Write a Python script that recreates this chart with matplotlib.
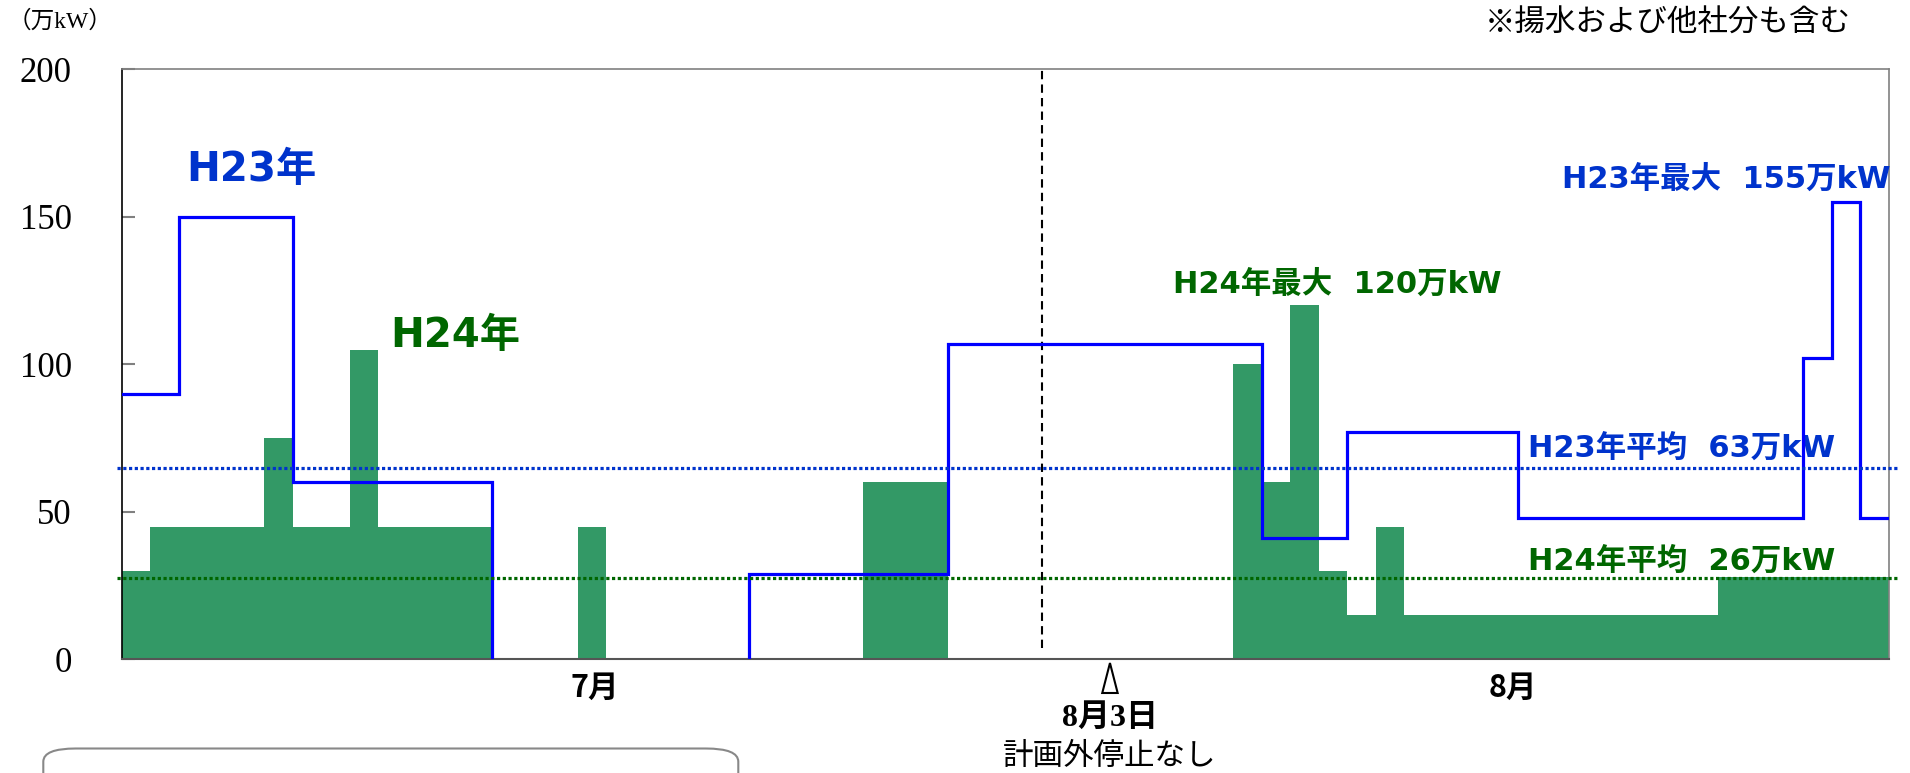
import numpy as np
import matplotlib.pyplot as plt
from matplotlib.patches import Polygon, FancyBboxPatch

# 日別の計画外停止量（万kW）、7月1日からの日数
h24 = [30, 45, 45, 45, 45, 75, 45, 45, 105, 45, 45, 45, 45,
       0, 0, 0, 45, 0, 0, 0, 0, 0, 0, 0, 0, 0,
       60, 60, 60, 0, 0, 0, 0, 0, 0, 0, 0, 0, 0,
       100, 60, 120, 30, 15, 45,
       15, 15, 15, 15, 15, 15, 15, 15, 15, 15, 15,
       28, 28, 28, 28, 28, 28]
h23 = [90, 90, 150, 150, 150, 150, 60, 60, 60, 60, 60, 60, 60,
       0, 0, 0, 0, 0, 0, 0, 0, 0,
       29, 29, 29, 29, 29, 29, 29,
       107, 107, 107, 107, 107, 107, 107, 107, 107, 107, 107,
       41, 41, 41, 77, 77, 77, 77, 77, 77,
       48, 48, 48, 48, 48, 48, 48, 48, 48, 48,
       102, 155, 48]
avg_h23 = 65
avg_h24 = 27.5
yticks = [0, 50, 100, 150, 200]

BLUE_TXT = '#0033cc'
GREEN_TXT = '#006600'
GREEN_BAR = '#339966'
SANS = ['DejaVu Sans', 'Noto Sans CJK JP']
SERIF = ['Liberation Serif', 'Noto Sans CJK JP']
CJK = ['Noto Sans CJK JP', 'DejaVu Sans']

W, H = 1910, 773
fig = plt.figure(figsize=(W / 100, H / 100), dpi=100)
ax = fig.add_axes([121.7 / W, 1 - 659.3 / H, (1889 - 121.7) / W, (659.3 - 69.3) / H])

days = np.arange(len(h24))
ax.bar(days, h24, width=1, align='edge', color=GREEN_BAR, linewidth=0, zorder=2)

# H23 階段線（0の区間は線を引かない）
xs, ys = [], []
for i, v in enumerate(h23):
    if v == 0:
        xs += [i, np.nan, i + 1]
        ys += [0, np.nan, 0]
    else:
        xs += [i, i + 1]
        ys += [v, v]
ax.plot(xs, ys, color='#0000ff', lw=2.3, zorder=4, solid_joinstyle='miter')

# 平均線
ax.plot([-0.15, len(h24) + 0.3], [avg_h23, avg_h23], color=BLUE_TXT, lw=2.3,
        linestyle=(0, (1, 0.8)), clip_on=False, zorder=5)
ax.plot([-0.15, len(h24) + 0.3], [avg_h24, avg_h24], color=GREEN_TXT, lw=2.3,
        linestyle=(0, (1, 0.8)), clip_on=False, zorder=5)

# 8月3日の区切り
ax.axvline(32.28, ymin=0.02, ymax=1, color='black', lw=1.5, dashes=(4, 2.5), zorder=3)

ax.set_xlim(0, len(h24))
ax.set_ylim(0, 200)
ax.set_yticks(yticks)
ax.set_yticklabels([str(t) for t in yticks], fontfamily=SERIF, fontsize=25)
ax.set_xticks([])
ax.tick_params(axis='y', direction='in', length=9, width=1.5, color='#808080', pad=36)

for s in ['top', 'right']:
    ax.spines[s].set_color('#808080')
    ax.spines[s].set_linewidth(1.2)
ax.spines['left'].set_color('black')
ax.spines['left'].set_linewidth(1.2)
ax.spines['bottom'].set_color('#555555')
ax.spines['bottom'].set_linewidth(1.5)

# 系列ラベル
ax.text(2.26, 162, 'H23年', color=BLUE_TXT, fontsize=29, fontweight='bold',
        family=SANS, va='baseline', ha='left')
ax.text(9.41, 106, 'H24年', color=GREEN_TXT, fontsize=29, fontweight='bold',
        family=SANS, va='baseline', ha='left')
ax.text(36.88, 124.2, 'H24年最大  120万kW', color=GREEN_TXT, fontsize=22,
        fontweight='bold', family=SANS, va='baseline', ha='left')
ax.text(62.05, 159.8, 'H23年最大  155万kW', color=BLUE_TXT, fontsize=22,
        fontweight='bold', family=SANS, va='baseline', ha='right', clip_on=False)
ax.text(49.33, 68.6, 'H23年平均  63万kW', color=BLUE_TXT, fontsize=22,
        fontweight='bold', family=SANS, va='baseline', ha='left')
ax.text(49.33, 30.3, 'H24年平均  26万kW', color=GREEN_TXT, fontsize=22,
        fontweight='bold', family=SANS, va='baseline', ha='left')

# 月ラベルと注記
xt = ax.get_xaxis_transform()
ax.text(16.6, -0.0486, '7月', transform=xt, ha='center', va='center',
        fontsize=22, fontweight='bold', family=CJK)
ax.text(48.8, -0.0486, '8月', transform=xt, ha='center', va='center',
        fontsize=22, fontweight='bold', family=CJK)
tri = Polygon([[34.40, -0.0571], [34.67, -0.0063], [34.94, -0.0571]], closed=True,
              facecolor='white', edgecolor='black', lw=1.5, transform=xt, clip_on=False)
ax.add_patch(tri)
ax.text(34.67, -0.0994, '8月3日', transform=xt, ha='center', va='center',
        fontsize=23, fontweight='bold', family=SERIF)
ax.text(34.67, -0.1639, '計画外停止なし', transform=xt, ha='center', va='center',
        fontsize=22, family=CJK)

fig.text(8 / W, 1 - 21 / H, '（万kW）', ha='left', va='center', fontsize=17, family=SERIF)
fig.text(1851 / W, 1 - 23 / H, '※揚水および他社分も含む', ha='right', va='center',
         fontsize=22, family=CJK)

box = FancyBboxPatch((43.3 / W, -0.05), (738.3 - 43.3) / W, 0.05 + 1 - 748.5 / H,
                     boxstyle='round,pad=0,rounding_size=0.017', transform=fig.transFigure,
                     facecolor='white', edgecolor='#888888', lw=1.5, clip_on=False)
fig.patches.append(box)

fig.savefig('out.png', dpi=100)
